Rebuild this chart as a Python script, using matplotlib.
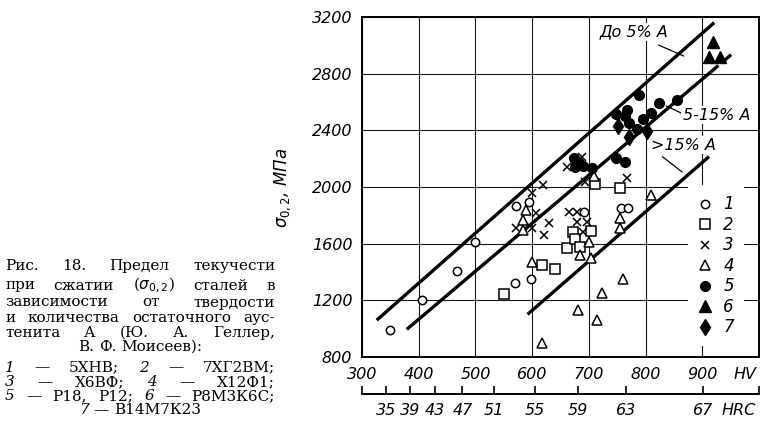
import matplotlib
matplotlib.use("Agg")
import matplotlib.pyplot as plt

plt.rcParams['mathtext.fontset'] = 'dejavusans'

# --- data (HV, sigma_0.2 in MPa) ---
s1_hv = [350, 406, 467, 500, 570, 598, 571, 594, 691, 757, 769, 678]
s1_mpa = [990, 1202, 1410, 1613, 1320, 1352, 1865, 1896, 1825, 1849, 1849, 2165]

s2_hv = [551, 618, 641, 662, 672, 675, 684, 704, 710, 755]
s2_mpa = [1242, 1449, 1419, 1567, 1684, 1630, 1574, 1691, 2020, 1990]

s3_hv = [571, 600, 607, 630, 621, 599, 619, 694, 767, 665, 679, 679, 697, 689, 662, 688]
s3_mpa = [1708, 1708, 1814, 1743, 1660, 1955, 2013, 2037, 2060, 1825, 1825, 1755, 1755, 1684, 2140, 2210]

s4_hv = [589, 583, 583, 599, 617, 680, 715, 723, 761, 755, 755, 700, 684, 703, 810, 709]
s4_mpa = [1837, 1767, 1696, 1472, 901, 1132, 1061, 1254, 1350, 1779, 1708, 1613, 1520, 1496, 1943, 2077]

s5_hv = [788, 767, 748, 764, 770, 785, 796, 810, 823, 855, 747, 763, 706, 674, 682, 675, 689]
s5_mpa = [2648, 2543, 2512, 2500, 2449, 2406, 2477, 2519, 2590, 2617, 2202, 2178, 2131, 2202, 2167, 2138, 2147]

s6_hv = [918, 912, 931]
s6_mpa = [3026, 2918, 2918]

s7_hv = [751, 770, 802]
s7_mpa = [2430, 2354, 2397]

# band lines
up_hv, up_mpa = [326, 921], [1060, 3160]
mid_hv, mid_mpa = [379, 915], [995, 2812]
mid_ext_hv, mid_ext_mpa = [915, 957], [2812, 2955]
low_hv, low_mpa = [592, 912], [1101, 2215]

hv_ticks = [300, 400, 500, 600, 700, 800, 900]
mpa_ticks = [800, 1200, 1600, 2000, 2400, 2800, 3200]
hrc_labels = ['35', '39', '43', '47', '51', '55', '59', '63', '67']
hrc_hv = [343, 385, 428, 477, 532, 605, 681, 765, 902]

fig = plt.figure(figsize=(7.73, 4.37), dpi=100)
ax = fig.add_axes([0.4683, 0.1831, 0.5136, 0.7780])
ax.set_xlim(300, 1000)
ax.set_ylim(800, 3200)
ax.set_xticks(hv_ticks)
ax.set_yticks(mpa_ticks)
ax.grid(True, color='#1a1a1a', lw=0.8)
ax.set_axisbelow(True)
ax.tick_params(length=0, pad=7, labelsize=11.5)
for lab in ax.get_xticklabels() + ax.get_yticklabels():
    lab.set_fontstyle('italic')
for s in ax.spines.values():
    s.set_linewidth(1.4)

ax.plot(up_hv, up_mpa, 'k-', lw=2.4, solid_capstyle='butt')
ax.plot(mid_hv, mid_mpa, 'k-', lw=2.4, solid_capstyle='butt')
ax.plot(mid_ext_hv, mid_ext_mpa, 'k', lw=2.4, ls=(0, (3, 2)))
ax.plot(low_hv, low_mpa, 'k-', lw=2.4, solid_capstyle='butt')

opn = dict(ls='none', mfc='white', mec='k', mew=1.1, zorder=4)
fil = dict(ls='none', color='k', zorder=4)
ax.plot(s1_hv, s1_mpa, marker='o', ms=6, label='1', **opn)
ax.plot(s2_hv, s2_mpa, marker='s', ms=6.5, label='2', **opn)
ax.plot(s3_hv, s3_mpa, marker='x', ms=6, ls='none', color='k', mew=1.1, label='3', zorder=4)
ax.plot(s4_hv, s4_mpa, marker='^', ms=7, label='4', **opn)
ax.plot(s5_hv, s5_mpa, marker='o', ms=7, label='5', **fil)
ax.plot(s6_hv, s6_mpa, marker='^', ms=8.5, label='6', **fil)
ax.plot(s7_hv, s7_mpa, marker='d', ms=8.5, label='7', **fil)

leg = ax.legend(loc='center', bbox_to_anchor=(0.892, 0.268), frameon=True,
                facecolor='white', edgecolor='none', framealpha=1, fancybox=False,
                handlelength=0.8, handletextpad=0.7, labelspacing=0.15,
                borderpad=0.6, numpoints=1, prop={'style': 'italic', 'size': 12})

box = dict(fc='white', ec='none', pad=1)
ax.text(779, 3096, 'До 5% А', style='italic', fontsize=11.5, ha='center', va='center', bbox=box)
ax.text(925, 2507, '5-15% А', style='italic', fontsize=11.5, ha='center', va='center', bbox=box)
ax.text(866, 2296, '>15% А', style='italic', fontsize=11.5, ha='center', va='center', bbox=box)
ax.plot([823, 867], [3002, 2925], 'k-', lw=0.9)
ax.plot([837, 867], [2571, 2514], 'k-', lw=0.9)
ax.plot([830, 864], [2213, 2107], 'k-', lw=0.9)

ax.set_ylabel(r'$\sigma_{0,2}$, МПа', fontstyle='italic', fontsize=12)
ax.yaxis.set_label_coords(-0.174, 0.497)
ax.annotate('HV', xy=(975, 0), xycoords=('data', 'axes fraction'), xytext=(0, -7),
            textcoords='offset points', ha='center', va='top', style='italic', fontsize=11.5)

# HRC scale below
ax2 = fig.add_axes([0.4683, 0.0984, 0.5136, 0.03])
ax2.set_xlim(300, 1000)
ax2.set_yticks([])
ax2.patch.set_visible(False)
for side in ['top', 'left', 'right']:
    ax2.spines[side].set_visible(False)
ax2.spines['bottom'].set_linewidth(1.4)
ax2.set_xticks([300] + hrc_hv + [1000])
ax2.set_xticklabels([''] + hrc_labels + [''], fontstyle='italic')
ax2.tick_params(direction='in', length=6, width=1.2, pad=6.5, labelsize=11.5)
ax2.annotate('HRC', xy=(965, 0), xycoords=('data', 'axes fraction'), xytext=(0, -6.5),
             textcoords='offset points', ha='center', va='top', style='italic', fontsize=11.5)

# caption on the left, justified like the book
cap_lines = [
    ([('Рис.', 0), ('18.', 0), ('Предел', 0), ('текучести', 0)], 270, 'j'),
    ([('при', 0), ('сжатии', 0), (r'($\sigma_{0,2}$)', 0), ('сталей', 0), ('в', 0)], 289.5, 'j'),
    ([('зависимости', 0), ('от', 0), ('твердости', 0)], 306.5, 'j'),
    ([('и', 0), ('количества', 0), ('остаточного', 0), ('аус-', 0)], 322, 'j'),
    ([('тенита', 0), ('А', 0), ('(Ю.', 0), ('А.', 0), ('Геллер,', 0)], 337, 'j'),
    ([('В.', 0), ('Ф.', 0), ('Моисеев):', 0)], 351, 'c'),
    ([('1', 1), ('—', 0), ('5ХНВ;', 0), ('2', 1), ('—', 0), ('7ХГ2ВМ;', 0)], 371.5, 'j'),
    ([('3', 1), ('—', 0), ('Х6ВФ;', 0), ('4', 1), ('—', 0), ('Х12Ф1;', 0)], 386, 'j'),
    ([('5', 1), ('—', 0), ('Р18,', 0), ('Р12;', 0), ('6', 1), ('—', 0), ('Р8М3К6С;', 0)], 400.5, 'j'),
    ([('7', 1), ('—', 0), ('В14М7К23', 0)], 414, 'c'),
]
W, H = 773, 437
x0, x1 = 5, 275
renderer = fig.canvas.get_renderer()
for toks, py, mode in cap_lines:
    arts = []
    for word, ital in toks:
        t = fig.text(0, 1 - py / H, word, family='DejaVu Serif', fontsize=11,
                     style='italic' if ital else 'normal', va='baseline', ha='left')
        arts.append(t)
    widths = [a.get_window_extent(renderer).width for a in arts]
    if mode == 'j':
        gap = (x1 - x0 - sum(widths)) / (len(arts) - 1)
        start = x0
    else:
        gap = 5
        total = sum(widths) + gap * (len(arts) - 1)
        start = (x0 + x1) / 2 - total / 2
    x = start
    for a, w in zip(arts, widths):
        a.set_x(x / W)
        x += w + gap

fig.savefig('out.png', dpi=100)
